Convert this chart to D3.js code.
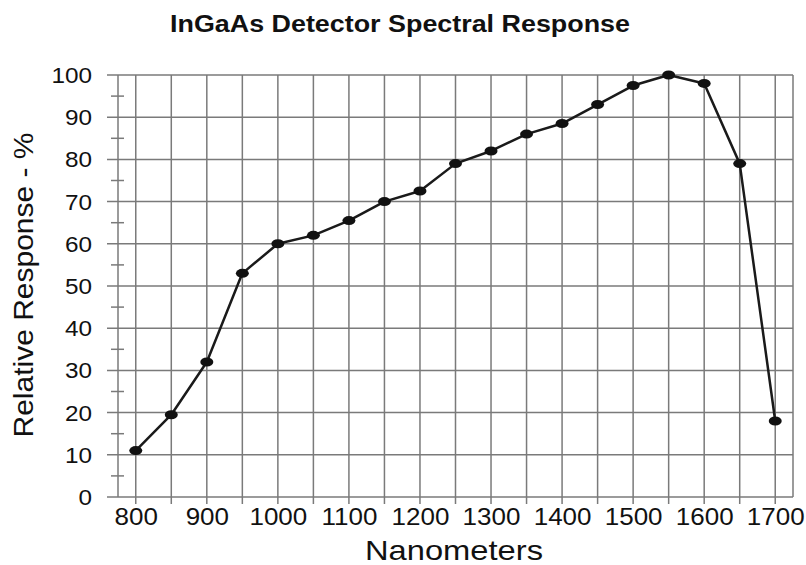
<!DOCTYPE html>
<html>
<head>
<meta charset="utf-8">
<script src="https://cdn.jsdelivr.net/npm/d3@7/dist/d3.min.js"></script>
<style>
  html, body { margin: 0; padding: 0; background: #fff; }
  svg { display: block; font-family: "Liberation Sans", Arial, sans-serif; }
</style>
</head>
<body>
<svg id="chart" width="806" height="565"></svg>
<script>
const wavelengths = [800, 850, 900, 950, 1000, 1050, 1100, 1150, 1200, 1250, 1300, 1350, 1400, 1450, 1500, 1550, 1600, 1650, 1700];
const response = [11, 19.5, 32, 53, 60, 62, 65.5, 70, 72.5, 79, 82, 86, 88.5, 93, 97.5, 100, 98, 79, 18];
const xTicks = [800, 850, 900, 950, 1000, 1050, 1100, 1150, 1200, 1250, 1300, 1350, 1400, 1450, 1500, 1550, 1600, 1650, 1700];
const xLabels = [800, 900, 1000, 1100, 1200, 1300, 1400, 1500, 1600, 1700];
const yTicks = [0, 10, 20, 30, 40, 50, 60, 70, 80, 90, 100];
const yMinor = [5, 15, 25, 35, 45, 55, 65, 75, 85, 95];
const title = "InGaAs Detector Spectral Response";
const xTitle = "Nanometers";
const yTitle = "Relative Response - %";

const svg = d3.select("#chart");
const L = 118, R = 793, T = 75, B = 497;
const x = d3.scaleLinear().domain([775, 1725]).range([L, R]);
const y = d3.scaleLinear().domain([0, 100]).range([B, T]);
const gridColor = "#7a7a7a";
const stretch = 1.13;

// grid: horizontal lines (extend left as ticks)
svg.append("g").selectAll("line").data(yTicks).join("line")
  .attr("x1", L - 11).attr("x2", R)
  .attr("y1", d => y(d)).attr("y2", d => y(d))
  .attr("stroke", gridColor).attr("stroke-width", 1.5);

// grid: vertical lines (extend below as ticks)
svg.append("g").selectAll("line").data(xTicks).join("line")
  .attr("x1", d => x(d)).attr("x2", d => x(d))
  .attr("y1", T).attr("y2", B + 7)
  .attr("stroke", gridColor).attr("stroke-width", 1.5);

// borders
svg.append("line").attr("x1", L).attr("x2", L).attr("y1", T).attr("y2", B)
  .attr("stroke", gridColor).attr("stroke-width", 1.5);
svg.append("line").attr("x1", R).attr("x2", R).attr("y1", T).attr("y2", B)
  .attr("stroke", gridColor).attr("stroke-width", 1.5);

// minor y ticks
svg.append("g").selectAll("line").data(yMinor).join("line")
  .attr("x1", L - 7).attr("x2", L + 6)
  .attr("y1", d => y(d)).attr("y2", d => y(d))
  .attr("stroke", gridColor).attr("stroke-width", 1.5);

// axes (labels) via d3 axes
const xAxis = d3.axisBottom(x).tickValues(xLabels).tickSize(0).tickPadding(0).tickFormat(d3.format("d"));
const gx = svg.append("g").attr("transform", `translate(0,${B})`).call(xAxis);
gx.select(".domain").remove();
gx.selectAll("text")
  .attr("y", 20).attr("dy", "0.35em")
  .attr("font-size", 23).attr("fill", "#111")
  .attr("font-family", '"Liberation Sans", Arial, sans-serif');

const yAxis = d3.axisLeft(y).tickValues(yTicks).tickSize(0).tickPadding(0).tickFormat(d3.format("d"));
const gy = svg.append("g").attr("transform", `translate(${L},0)`).call(yAxis);
gy.select(".domain").remove();
gy.selectAll("text")
  .attr("x", -26).attr("dy", "0.35em")
  .attr("font-size", 21.5).attr("fill", "#111")
  .attr("font-family", '"Liberation Sans", Arial, sans-serif');

// stretch tick labels horizontally
svg.selectAll(".tick text").each(function() {
  const w = this.getComputedTextLength();
  d3.select(this).attr("textLength", w * stretch).attr("lengthAdjust", "spacingAndGlyphs");
});

// line
const line = d3.line().x((d, i) => x(wavelengths[i])).y(d => y(d));
svg.append("path").datum(response)
  .attr("d", line).attr("fill", "none")
  .attr("stroke", "#1a1a1a").attr("stroke-width", 2.5).attr("stroke-linejoin", "round");

// markers
svg.append("g").selectAll("ellipse").data(response).join("ellipse")
  .attr("cx", (d, i) => x(wavelengths[i])).attr("cy", d => y(d))
  .attr("rx", 6.5).attr("ry", 4.5).attr("fill", "#111");

// title
svg.append("text").attr("x", 400).attr("y", 32).attr("text-anchor", "middle")
  .attr("font-size", 23).attr("font-weight", "bold").attr("fill", "#111")
  .attr("textLength", 460).attr("lengthAdjust", "spacingAndGlyphs")
  .text(title);

// x title
svg.append("text").attr("x", 454).attr("y", 560).attr("text-anchor", "middle")
  .attr("font-size", 28).attr("fill", "#111")
  .attr("textLength", 178).attr("lengthAdjust", "spacingAndGlyphs")
  .text(xTitle);

// y title
svg.append("text").attr("transform", `translate(33,285) rotate(-90)`)
  .attr("text-anchor", "middle")
  .attr("font-size", 28).attr("fill", "#111")
  .attr("textLength", 305).attr("lengthAdjust", "spacingAndGlyphs")
  .text(yTitle);
</script>
</body>
</html>
